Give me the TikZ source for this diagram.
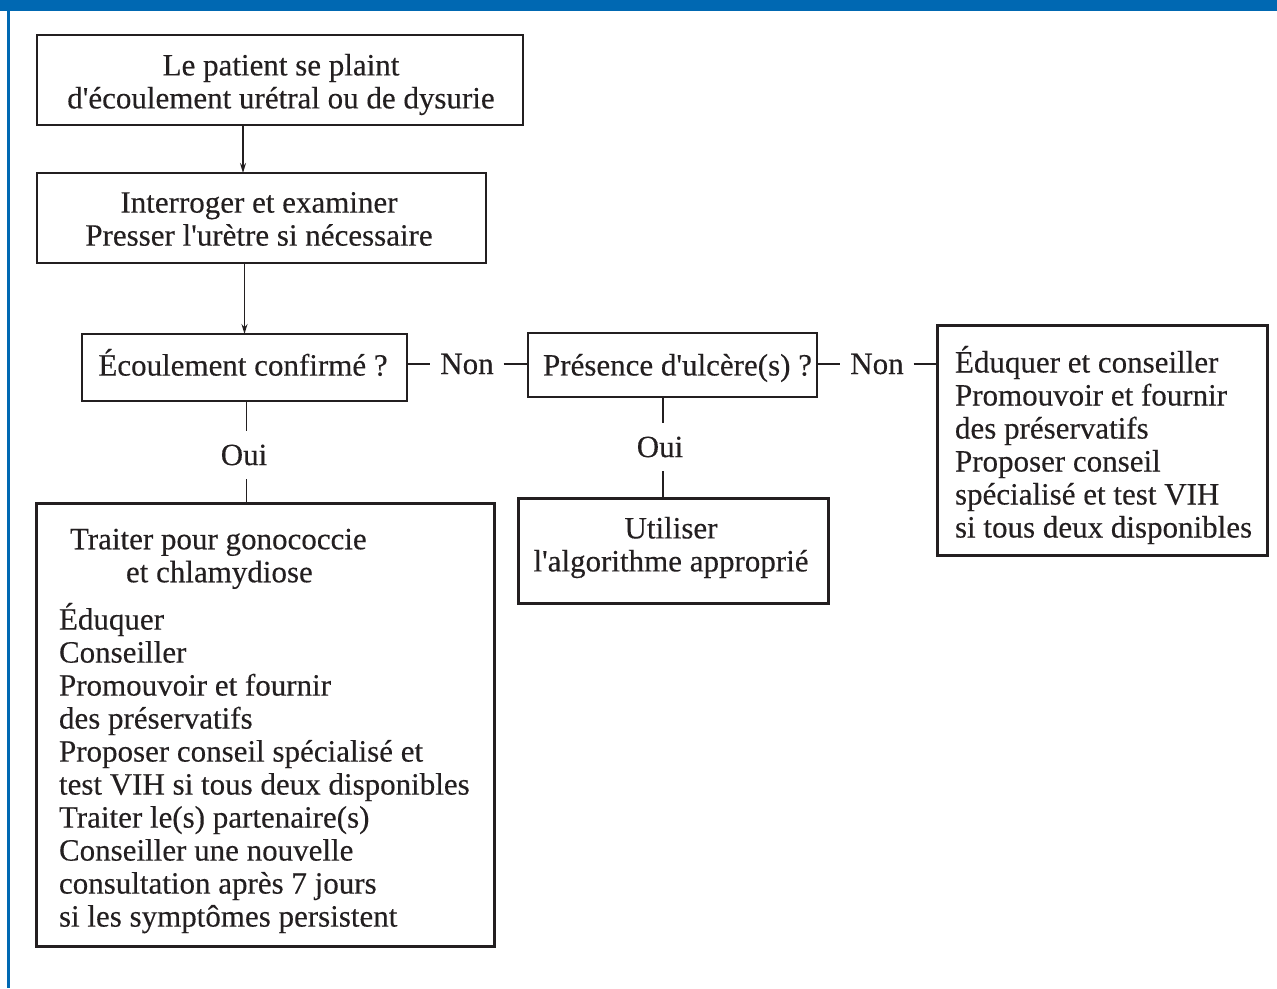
\documentclass[tikz,border=0pt]{standalone}
\usepackage{fontspec}
\setmainfont[FakeBold=0.3]{Liberation Serif}
\usetikzlibrary{arrows.meta}
\definecolor{frameblue}{RGB}{0,104,178}
\definecolor{ink}{RGB}{35,31,32}
\newcommand\apos{\textquotesingle}

\begin{document}
\begin{tikzpicture}[x=1pt,y=-1pt,
  every node/.style={font=\fontsize{31}{33}\selectfont, text=ink, outer sep=0pt},
  box/.style={draw=ink, line width=1.8pt, inner sep=0pt},
  heavybox/.style={draw=ink, line width=3pt, inner sep=0pt},
  txt/.style={inner sep=0pt},
  link/.style={draw=ink, line width=1.4pt},
  arr/.style={link, -{Stealth[length=10pt,width=6pt]}},
  tag/.style={inner xsep=10pt, inner ysep=14pt}
]
\useasboundingbox (0,0) rectangle (1277,988);
% blue frame: top band and left rule
\fill[frameblue] (0,0) rectangle (1277,11);
\fill[frameblue] (7,11) rectangle (10,988);

% boxes
\node[box, minimum width=486pt, minimum height=90pt] (b1) at (280,80) {};
\node[box, minimum width=449pt, minimum height=90pt] (b2) at (261.5,218) {};
\node[box, minimum width=325pt, minimum height=67pt] (b3) at (244.5,367.5) {};
\node[box, minimum width=289pt, minimum height=64pt] (b4) at (672.5,365) {};
\node[heavybox, minimum width=330pt, minimum height=230pt] (b5) at (1102,440) {};
\node[heavybox, minimum width=458pt, minimum height=443pt] (b6) at (265,724.5) {};
\node[heavybox, minimum width=310pt, minimum height=105pt] (b7) at (673,550.5) {};

% box texts
\node[txt, align=center] (t1) at (281,84.5)
  {Le patient se plaint\\d\apos écoulement urétral ou de dysurie};
\node[txt, align=center] (t2) at (259,219)
  {Interroger et examiner\\Presser l\apos urètre si nécessaire};
\node[txt] (t3) at (243,362.5) {Écoulement confirmé ?};
\node[txt] (t4) at (677.5,368) {Présence d\apos ulcère(s) ?};
\node[txt, align=left, anchor=west] (t5) at (955,445)
  {Éduquer et conseiller\\Promouvoir et fournir\\des préservatifs\\Proposer conseil\\spécialisé et test VIH\\si tous deux disponibles};
\node[txt, align=left, anchor=west] (t6) at (59,731)
  {\hspace*{11pt}Traiter pour gonococcie\\
   \hspace*{67pt}et chlamydiose\\[13pt]
   Éduquer\\
   Conseiller\\
   Promouvoir et fournir\\
   des préservatifs\\
   Proposer conseil spécialisé et\\
   test VIH si tous deux disponibles\\
   Traiter le(s) partenaire(s)\\
   Conseiller une nouvelle\\
   consultation après 7 jours\\
   si les symptômes persistent};
\node[txt, align=center] (t7) at (671,547.5)
  {Utiliser\\l\apos algorithme approprié};

% branch labels
\node[tag] (n1) at (467,364) {Non};
\node[tag] (n2) at (877,364) {Non};
\node[tag] (o1) at (244,455) {Oui};
\node[tag] (o2) at (660,447) {Oui};

% connectors
\draw[arr] ([xshift=-37pt]b1.south) -- ([xshift=-37pt]b1.south |- b2.north);
\draw[arr] (b2.south -| b3.north) -- (b3.north);
\draw[link] (b3.east |- n1) -- (n1.west);
\draw[link] (n1.east) -- (b4.west |- n1);
\draw[link] (b4.east |- n2) -- (n2.west);
\draw[link] (n2.east) -- (b5.west |- n2);
\draw[link] ([xshift=2pt]b3.south) -- ([xshift=2pt]b3.south |- o1.north);
\draw[link] (o1.south -| b3.south) ++(2pt,0) -- ([xshift=2pt]b3.south |- b6.north);
\draw[link] ([xshift=-9.5pt]b4.south) -- ([xshift=-9.5pt]b4.south |- o2.north);
\draw[link] ([xshift=-9.5pt]b4.south |- o2.south) -- ([xshift=-9.5pt]b4.south |- b7.north);
\end{tikzpicture}
\end{document}
